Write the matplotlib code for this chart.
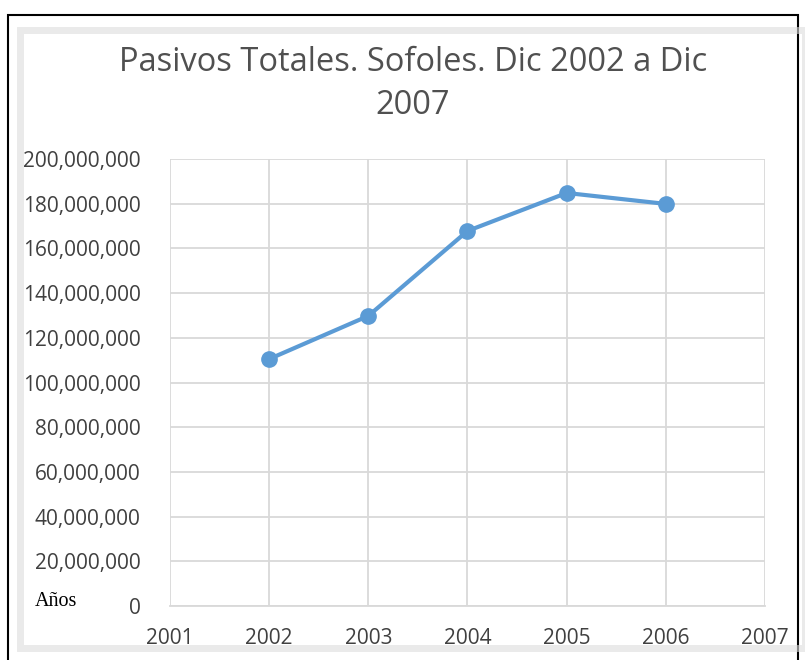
import matplotlib
matplotlib.use("Agg")
import matplotlib.pyplot as plt
from matplotlib.patches import Rectangle
from matplotlib.ticker import FuncFormatter

years = [2002, 2003, 2004, 2005, 2006]
pasivos = [110.5e6, 129.8e6, 167.8e6, 184.8e6, 179.9e6]
title = "Pasivos Totales. Sofoles. Dic 2002 a Dic\n2007"
x_label = "Años"

plt.rcParams['font.family'] = ['Open Sans', 'DejaVu Sans']
fig = plt.figure(figsize=(8.05, 6.6), dpi=100)
fig.patch.set_facecolor('white')

# outer black frame and soft grey inner frame
fig.add_artist(Rectangle((8/805, -0.05), 790/805, 1 - 15/660 + 0.05, transform=fig.transFigure,
                         fill=False, edgecolor='black', linewidth=1.5))
fig.add_artist(Rectangle((20/805, 12/660), 785/805, 1 - 30/660 - 12/660, transform=fig.transFigure,
                         fill=False, edgecolor='#dcdcdc', linewidth=5, alpha=0.6))

ax = fig.add_axes([170/805, 1 - 606/660, (765 - 170)/805, (606 - 159)/660])
ax.plot(years, pasivos, color='#5b9bd5', linewidth=3, marker='o', markersize=11,
        markerfacecolor='#5b9bd5', markeredgecolor='#5b9bd5')
ax.set_xlim(2001, 2007)
ax.set_ylim(0, 200e6)
ax.set_xticks(range(2001, 2008))
ax.set_yticks(range(0, 200000001, 20000000))
ax.yaxis.set_major_formatter(FuncFormatter(lambda v, p: f"{int(v):,}"))
ax.grid(True, color='#d9d9d9', linewidth=1.3)
ax.set_axisbelow(True)
for s in ['top', 'right', 'left']:
    ax.spines[s].set_visible(False)
ax.spines['bottom'].set_color('#d9d9d9')
ax.spines['bottom'].set_linewidth(1.3)
ax.tick_params(axis='both', length=0, labelsize=15, colors='#404040')
ax.tick_params(axis='x', pad=16)
ax.tick_params(axis='y', pad=21)

fig.text(413/805, 1 - 84/660, title, ha='center', va='center', fontsize=23.5,
         color='#505050', linespacing=1.4)
fig.text(35/805, 1 - 601/660, x_label, ha='left', va='center', fontsize=14.5,
         family=['Liberation Serif'], color='black')

fig.savefig('out.png', dpi=100, facecolor='white')
